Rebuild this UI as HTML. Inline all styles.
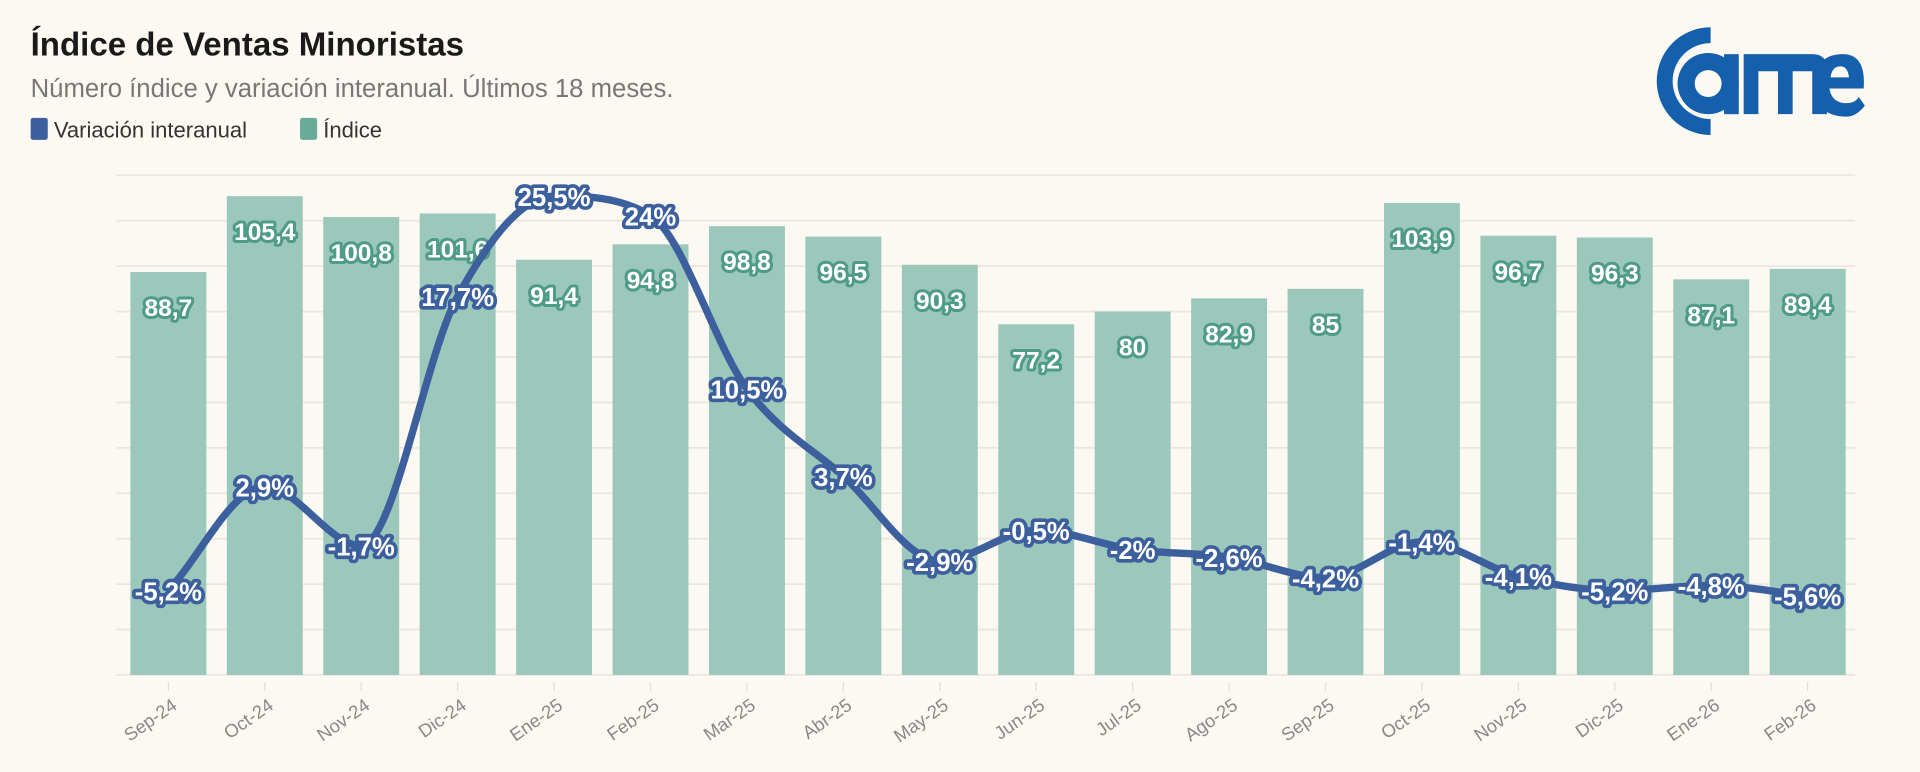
<!DOCTYPE html>
<html><head><meta charset="utf-8"><style>
html,body{margin:0;padding:0;background:#fcf9f2;}
svg{display:block}
text{font-family:"Liberation Sans","DejaVu Sans",sans-serif}
</style></head><body>
<svg id="s" width="1920" height="772" viewBox="0 0 1568 630" xmlns="http://www.w3.org/2000/svg">
<rect width="1568" height="630" fill="#fcf9f2"/>
<text x="25" y="45" font-size="27" font-weight="bold" fill="#1a1a1a">Índice de Ventas Minoristas</text>
<text x="25" y="79" font-size="21" fill="#777">Número índice y variación interanual. Últimos 18 meses.</text>
<rect x="25" y="96" width="14" height="18" rx="2" fill="#3c5f9e"/>
<text x="44" y="112" font-size="18" fill="#333">Variación interanual</text>
<rect x="245" y="96" width="14" height="18" rx="2" fill="#6aab98"/>
<text x="264" y="112" font-size="18" fill="#333">Índice</text>
<g id="logo" fill="#1560ad">
<path d="M1397 22 A44 44 0 1 0 1397 110 L1397 97 A31 31 0 1 1 1397 35 Z"/>
<circle cx="1395" cy="68" r="25"/>
<circle cx="1395" cy="68" r="11" fill="#fcf9f2"/>
<rect x="1408" y="44" width="12" height="49"/>
<path d="M1424 93 V44 H1480 Q1492 44 1492 56 V93 H1480 V58 H1464 V93 H1452 V58 H1436 V93 Z"/>
<path d="M1522 72 H1494 Q1496 84 1508 84 Q1515 84 1518 79 L1523 86 Q1516 95 1508 95 Q1482 95 1482 69 Q1482 44 1505 44 Q1524 44 1522 72 Z M1495 63 H1510 Q1509 54 1503 54 Q1496 54 1495 63 Z" fill-rule="evenodd"/>
</g>
<g id="g"></g>
</svg>
<script>
const g=document.getElementById('g');
const labs=["Sep-24","Oct-24","Nov-24","Dic-24","Ene-25","Feb-25","Mar-25","Abr-25","May-25","Jun-25","Jul-25","Ago-25","Sep-25","Oct-25","Nov-25","Dic-25","Ene-26","Feb-26"];
const idx=[88.7,105.4,100.8,101.6,91.4,94.8,98.8,96.5,90.3,77.2,80,82.9,85,103.9,96.7,96.3,87.1,89.4];
const vr=[-5.2,2.9,-1.7,17.7,25.5,24,10.5,3.7,-2.9,-0.5,-2,-2.6,-4.2,-1.4,-4.1,-5.2,-4.8,-5.6];
let h='';
for(let i=0;i<=11;i++){const y=551-i*37.1;h+=`<line x1="95" x2="1515" y1="${y}" y2="${y}" stroke="#ebe7df" stroke-width="1.5"/>`;}
const cx=i=>137.5+i*78.75;
const fmt=v=>String(v).replace('.',',');
idx.forEach((v,i)=>{const t=551-v*3.71;h+=`<rect x="${cx(i)-31}" y="${t}" width="62" height="${551-t}" fill="#9cc7bb"/>`;
h+=`<line x1="${cx(i)}" x2="${cx(i)}" y1="557" y2="564" stroke="#ddd"/>`;
h+=`<text transform="translate(${cx(i)+8},${578}) rotate(-35)" text-anchor="end" font-size="15" fill="#888">${labs[i]}</text>`;});
const pts=vr.map((v,i)=>[cx(i),427.5-10.49*v]);
const n=pts.length,dx=78.75;
const del=[];for(let i=0;i<n-1;i++)del.push((pts[i+1][1]-pts[i][1])/dx);
const m=[];m[0]=del[0];m[n-1]=del[n-2];
for(let i=1;i<n-1;i++){m[i]=(del[i-1]*del[i]<=0)?0:(del[i-1]+del[i])/2;}
for(let i=0;i<n-1;i++){if(del[i]===0){m[i]=m[i+1]=0;continue;}const a=m[i]/del[i],b=m[i+1]/del[i],s=a*a+b*b;if(s>9){const t=3/Math.sqrt(s);m[i]=t*a*del[i];m[i+1]=t*b*del[i];}}
let d=`M${pts[0][0]},${pts[0][1]}`;
for(let i=0;i<n-1;i++){const p1=pts[i],p2=pts[i+1];d+=` C${p1[0]+dx/3},${p1[1]+m[i]*dx/3} ${p2[0]-dx/3},${p2[1]-m[i+1]*dx/3} ${p2[0]},${p2[1]}`;}
idx.forEach((v,i)=>{const t=551-v*3.71;h+=`<text x="${cx(i)}" y="${t+36}" text-anchor="middle" font-size="20" font-weight="bold" fill="#fff" stroke="#4f9c86" stroke-width="5" stroke-linejoin="round" paint-order="stroke">${fmt(v)}</text>`;});
h+=`<path d="${d}" fill="none" stroke="#3c5f9e" stroke-width="6" stroke-linejoin="round"/>`;
pts.forEach((p,i)=>{h+=`<text x="${p[0]}" y="${p[1]+8}" text-anchor="middle" font-size="21" font-weight="bold" fill="#fff" stroke="#3c5f9e" stroke-width="6" stroke-linejoin="round" paint-order="stroke">${fmt(vr[i])}%</text>`;});
g.innerHTML=h;
</script>
</body></html>
